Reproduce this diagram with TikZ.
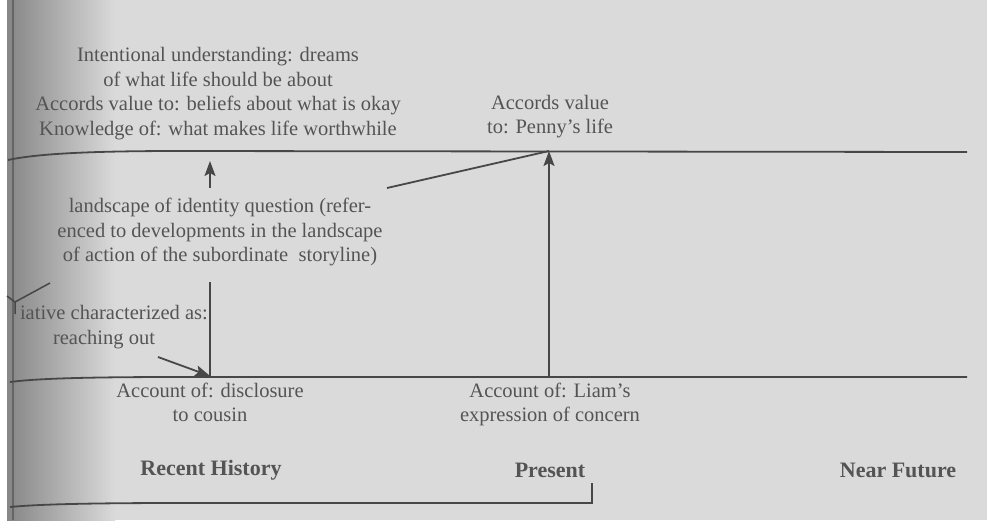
\documentclass[tikz,border=0pt]{standalone}
\usepackage{fontspec}
\setmainfont{Liberation Serif}
\usetikzlibrary{arrows.meta}
\definecolor{bgc}{HTML}{DADADA}
\definecolor{gut}{HTML}{868686}
\definecolor{inkc}{HTML}{545454}
\definecolor{linec}{HTML}{474747}
\tikzset{
  lbl/.style={text=inkc, inner sep=0pt, align=center, font=\fontsize{20.5}{24.5}\selectfont},
  hdr/.style={text=inkc, inner sep=0pt, font=\fontsize{22}{24.5}\selectfont\bfseries},
  rule/.style={draw=linec, line width=1.8pt},
  arr/.style={draw=linec, line width=1.8pt, -{Stealth[length=15pt,width=11pt,inset=3pt]}}
}
\begin{document}
\begin{tikzpicture}[x=1pt,y=-1pt]
\useasboundingbox (0,0) rectangle (987,520);
% page background
\fill[white] (0,0) rectangle (987,520);
\fill[bgc] (7,0) rectangle (987,520);
\shade[left color=gut, right color=bgc] (7,0) rectangle (115,520);
\draw[draw=gut!75!black, line width=2pt] (13,0) -- (13,520);

% coordinates
\coordinate (tl) at (8,160);
\coordinate (tr) at (967,152);
\coordinate (bl) at (10,382);
\coordinate (br) at (967,377);
\coordinate (pj) at (549,151);
\coordinate (pb) at (549,377);
\coordinate (dj) at (210,376);
\coordinate (dt) at (210,282);
\coordinate (ua) at (210,188);
\coordinate (ub) at (210,161);
\coordinate (sl) at (387,188);
\coordinate (ia) at (158,357);
\coordinate (yb) at (50,283);
\coordinate (yc) at (15,302);
\coordinate (yl) at (7,296);
\coordinate (ys) at (15,314);
\coordinate (kl) at (10,507);
\coordinate (kc) at (592,503);
\coordinate (kt) at (592,483);

% horizontal rules
\draw[rule] (tl) .. controls (40,153) and (100,151) .. (180,151) -- (tr);
\draw[rule] (bl) .. controls (40,378) and (100,377) .. (180,377) -- (br);
\draw[rule] (kl) .. controls (40,504) and (100,503) .. (180,503) -- (kc) -- (kt);

% texts
\node[lbl] (intent) at (218,93.5) {Intentional understanding: dreams\\of what life should be about\\Accords value to: beliefs about what is okay\\Knowledge of: what makes life worthwhile};
\node[lbl] (penny) at (550,116.5) {Accords value\\to: Penny's life};
\node[lbl] (ident) at (220,232) {landscape of identity question (refer-\\enced to developments in the landscape\\of action of the subordinate\ \ storyline)};
\node[lbl, anchor=east] (init1) at (208,313) {iative characterized as:};
\node[lbl] (init2) at (104,340) {reaching out};
\node[lbl] (discl) at (210,402.5) {Account of: disclosure\\to cousin};
\node[lbl] (liam) at (550,404.5) {Account of: Liam's\\expression of concern};
\node[hdr] (recent) at (211,470) {Recent History};
\node[hdr] (present) at (550,470) {Present};
\node[hdr] (future) at (898,470) {Near Future};

% connectors
\draw[arr] (ua) -- (ub);
\draw[rule] (dt) -- (dj);
\draw[arr] (ia) -- (dj);
\draw[arr] (pb) -- (pj);
\draw[rule] (sl) -- (pj);
\draw[rule, line width=1.5pt] (yb) -- (yc) -- (ys);
\draw[rule, line width=1.5pt] (yl) -- (yc);
\end{tikzpicture}
\end{document}
